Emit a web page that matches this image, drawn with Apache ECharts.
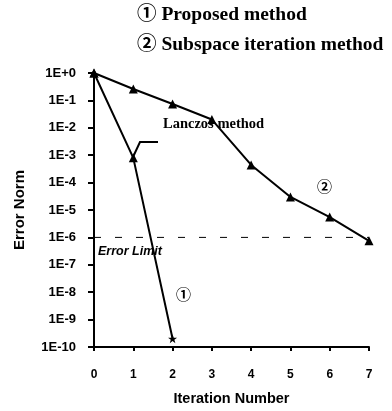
<!DOCTYPE html>
<html>
<head>
<meta charset="utf-8">
<script src="https://cdn.jsdelivr.net/npm/echarts@6/dist/echarts.min.js"></script>
<style>
  html, body { margin: 0; padding: 0; background: #fff; }
  #chart { width: 392px; height: 411px; }
</style>
</head>
<body>
<div id="chart"></div>
<script>
// iteration numbers and error norms
var proposedX = [0, 1, 2];
var proposedY = [1, 8e-4, 2e-10];
var subspaceX = [0, 1, 2, 3, 4, 5, 6, 7];
var subspaceY = [1, 0.26, 0.074, 0.02, 4.4e-4, 3e-5, 5.5e-6, 7.5e-7];
var limitX = [0, 7];
var limitY = [1e-6, 1e-6];
var legendLines = ["\u2460 Proposed method", "\u2461 Subspace iteration method"];

var STAR = "path://M5,0 L6.2,3.6 L10,3.6 L7,5.9 L8.1,9.6 L5,7.3 L1.9,9.6 L3,5.9 L0,3.6 L3.8,3.6 Z";
var AXIS_FONT = "Liberation Sans, Arial, sans-serif";
var SERIF = "Liberation Serif, Times New Roman, Noto Sans CJK SC, serif";

function pairs(xs, ys) {
    var out = [];
    for (var i = 0; i < xs.length; i++) {
        out.push([xs[i], ys[i]]);
    }
    return out;
}

var chart = echarts.init(document.getElementById("chart"));

var proposedData = pairs(proposedX, proposedY).map(function (p, i) {
    // last point of the proposed method is drawn as a star
    if (i == proposedX.length - 1) {
        return {value: p, symbol: STAR, symbolSize: 9};
    }
    return p;
});

var option = {
    animation: false,
    grid: {left: 94, right: 23, top: 73, bottom: 64, outerBoundsMode: "none"},
    xAxis: {
        type: "value",
        min: 0,
        max: 7,
        interval: 1,
        name: "Iteration Number",
        nameLocation: "middle",
        nameGap: 44,
        nameTextStyle: {color: "#000", fontFamily: AXIS_FONT, fontSize: 14.5, fontWeight: "bold"},
        axisLine: {lineStyle: {color: "#000", width: 2}},
        axisTick: {length: 4, lineStyle: {color: "#000", width: 2}},
        axisLabel: {color: "#000", fontFamily: AXIS_FONT, fontSize: 12, fontWeight: "bold", margin: 22},
        splitLine: {show: false}
    },
    yAxis: {
        type: "log",
        logBase: 10,
        min: 1e-10,
        max: 1,
        interval: 1,
        name: "Error Norm",
        nameLocation: "middle",
        nameGap: 67,
        nameTextStyle: {color: "#000", fontFamily: AXIS_FONT, fontSize: 15, fontWeight: "bold"},
        axisLine: {show: true, lineStyle: {color: "#000", width: 2}},
        axisTick: {show: true, length: 6, lineStyle: {color: "#000", width: 2}},
        axisLabel: {
            color: "#000",
            fontFamily: AXIS_FONT,
            fontSize: 13,
            fontWeight: "bold",
            margin: 18,
            formatter: function (value) {
                var e = Math.round(Math.log(value) / Math.LN10);
                return "1E" + (e >= 0 ? "+" + e : e);
            }
        },
        splitLine: {show: false}
    },
    series: [
        {
            name: "Error Limit",
            type: "line",
            data: pairs(limitX, limitY),
            symbol: "none",
            silent: true,
            lineStyle: {color: "#000", width: 1, type: [7, 14]}
        },
        {
            name: "Subspace iteration method",
            type: "line",
            data: pairs(subspaceX, subspaceY),
            symbol: "triangle",
            symbolSize: 9,
            lineStyle: {color: "#000", width: 2},
            itemStyle: {color: "#000"}
        },
        {
            name: "Proposed method",
            type: "line",
            data: proposedData,
            symbol: "triangle",
            symbolSize: 9,
            lineStyle: {color: "#000", width: 2},
            itemStyle: {color: "#000"}
        }
    ],
    graphic: [
        {type: "text", left: 137, top: 5,
         style: {text: legendLines[0], font: "bold 19.5px " + SERIF, fill: "#000"}},
        {type: "text", left: 137, top: 35,
         style: {text: legendLines[1], font: "bold 19.5px " + SERIF, fill: "#000"}},
        {type: "text", left: 163, top: 117,
         style: {text: "Lanczos method", font: "bold 14.5px " + SERIF, fill: "#000"}},
        {type: "polyline", shape: {points: [[133, 157], [140, 142], [158, 142]]},
         style: {stroke: "#000", lineWidth: 2, fill: null}},
        {type: "text", left: 98, top: 245,
         style: {text: "Error Limit", font: "italic bold 12.5px " + AXIS_FONT, fill: "#000"}},
        {type: "text", left: 176, top: 289,
         style: {text: "\u2460", font: "bold 15px " + SERIF, fill: "#000"}},
        {type: "text", left: 317, top: 181,
         style: {text: "\u2461", font: "bold 15px " + SERIF, fill: "#000"}}
    ]
};

chart.setOption(option);
</script>
</body>
</html>
